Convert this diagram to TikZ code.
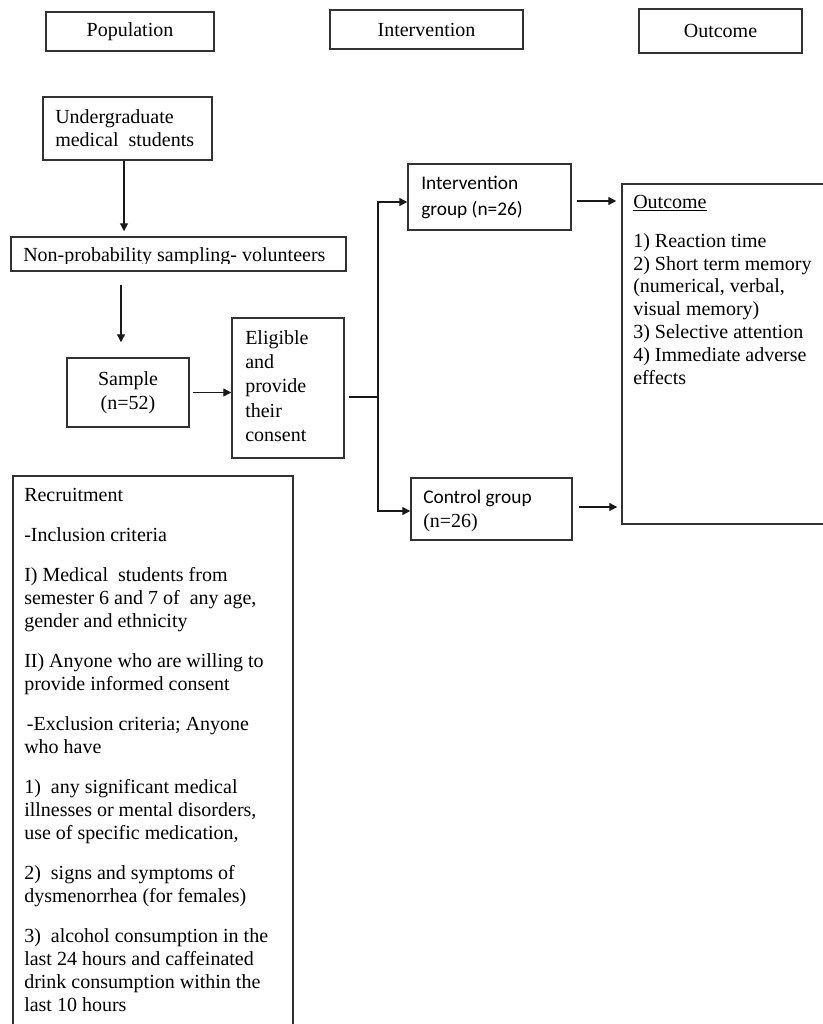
\documentclass[tikz,border=0pt]{standalone}
\usepackage{fontspec}
\setmainfont{Liberation Serif}
\newfontfamily\calib{Carlito}
\usetikzlibrary{arrows.meta,fit}
\newcommand\tstrut{\rule{0pt}{12pt}}
\tikzset{
  box/.style={draw=black!80, line width=1.1pt, inner sep=0pt},
  hdr/.style={box, font=\fontsize{15pt}{17pt}\selectfont},
  txt/.style={inner sep=0pt, anchor=north west, align=left, font=\fontsize{15pt}{17.25pt}\selectfont},
  conn/.style={draw=black!90, line width=1pt},
  arr/.style={conn, -{Triangle[length=6pt,width=6pt]}}
}
\begin{document}
\begin{tikzpicture}[x=0.75pt,y=-0.75pt]
\useasboundingbox[fill=white] (0,0) rectangle (822,1024);

% header boxes
\node[hdr, minimum width=126pt, minimum height=29.25pt] (pop) at (130,31.5) {Population};
\node[hdr, minimum width=144.75pt, minimum height=29.25pt] (intv) at (426.5,29.5) {Intervention};
\node[hdr, minimum width=122.25pt, minimum height=33pt] (outc) at (720.5,31) {Outcome};

% boxes
\node[box, fit={(43,97) (212,160)}] (ug) {};
\node[box, fit={(11,237) (346,271)}] (np) {};
\node[box, minimum width=91.5pt, minimum height=51.75pt, align=center,
      font=\fontsize{15pt}{18pt}\selectfont] (sample) at (128,392.5) {Sample\\(n=52)};
\node[box, fit={(232,318) (344,458)}] (elig) {};
\node[box, fit={(408,164) (571,230)}] (intgrp) {};
\node[box, fit={(411,478) (572,540)}] (ctrl) {};
\node[box, fit={(622,184) (832,524)}] (outbox) {};
\node[box, fit={(13,476) (293,1040)}] (recr) {};

% texts
\node[txt] (ugt) at (55,107) {\tstrut Undergraduate\\medical\ \ students};
\begin{scope}
\clip (11,237) rectangle (346,263);
\node[txt] (npt) at (23,245) {\tstrut Non-probability sampling- volunteers};
\end{scope}
\node[txt, font=\fontsize{15pt}{18.2pt}\selectfont] (eligt) at (245,328)
  {\tstrut Eligible\\and\\provide\\their\\consent};
\node[txt, font=\calib\fontsize{14.5pt}{19.5pt}\selectfont] (intgrpt) at (421,173)
  {\tstrut Intervention\\group (n=26)};
\node[txt, font=\fontsize{15pt}{18pt}\selectfont] (ctrlt) at (423,487)
  {\tstrut{\calib\fontsize{14.5pt}{18pt}\selectfont Control group}\\(n=26)};
\node[txt, font=\fontsize{15pt}{17.1pt}\selectfont] (outt) at (633,192)
  {\tstrut\underline{Outcome}\\[12.15pt]
   1) Reaction time\\
   2) Short term memory\\
   (numerical, verbal,\\
   visual memory)\\
   3) Selective attention\\
   4) Immediate adverse\\
   effects};
\node[txt] (recrt) at (24,485)
  {\tstrut Recruitment\\[12.75pt]
   -Inclusion criteria\\[12.75pt]
   I) Medical\ \ students from\\
   semester 6 and 7 of\ \ any age,\\
   gender and ethnicity\\[12.75pt]
   II) Anyone who are willing to\\
   provide informed consent\\[12.75pt]
   \hspace{2pt}-Exclusion criteria; Anyone\\
   who have\\[12.75pt]
   1)\ \ any significant medical\\
   illnesses or mental disorders,\\
   use of specific medication,\\[12.75pt]
   2)\ \ signs and symptoms of\\
   dysmenorrhea (for females)\\[12.75pt]
   3)\ \ alcohol consumption in the\\
   last 24 hours and caffeinated\\
   drink consumption within the\\
   last 10 hours};

% connectors
\draw[arr, shorten >=3.75pt] ([xshift=-2.6pt]ug.south) -- ([xshift=-2.6pt]ug.south |- np.north);
\draw[arr, shorten <=9.75pt, shorten >=11.25pt] ([xshift=-5.25pt]sample.north |- np.south) -- ([xshift=-5.25pt]sample.north);
\draw[arr, shorten <=2.25pt] (sample.east) -- (sample.east -| elig.west);
\coordinate (split) at (378,397);
\draw[conn, shorten <=3pt] (elig.east |- split) -- (split);
\draw[arr] (split) |- ([yshift=-3.75pt]intgrp.west);
\draw[arr] (split) |- ([yshift=-1.5pt]ctrl.west);
\draw[arr, shorten <=3.75pt, shorten >=3.75pt] ([yshift=-3pt]intgrp.east) -- ([yshift=-3pt]intgrp.east -| outbox.west);
\draw[arr, shorten <=4.5pt, shorten >=3pt] ([yshift=1.5pt]ctrl.east) -- ([yshift=1.5pt]ctrl.east -| outbox.west);
\end{tikzpicture}
\end{document}
